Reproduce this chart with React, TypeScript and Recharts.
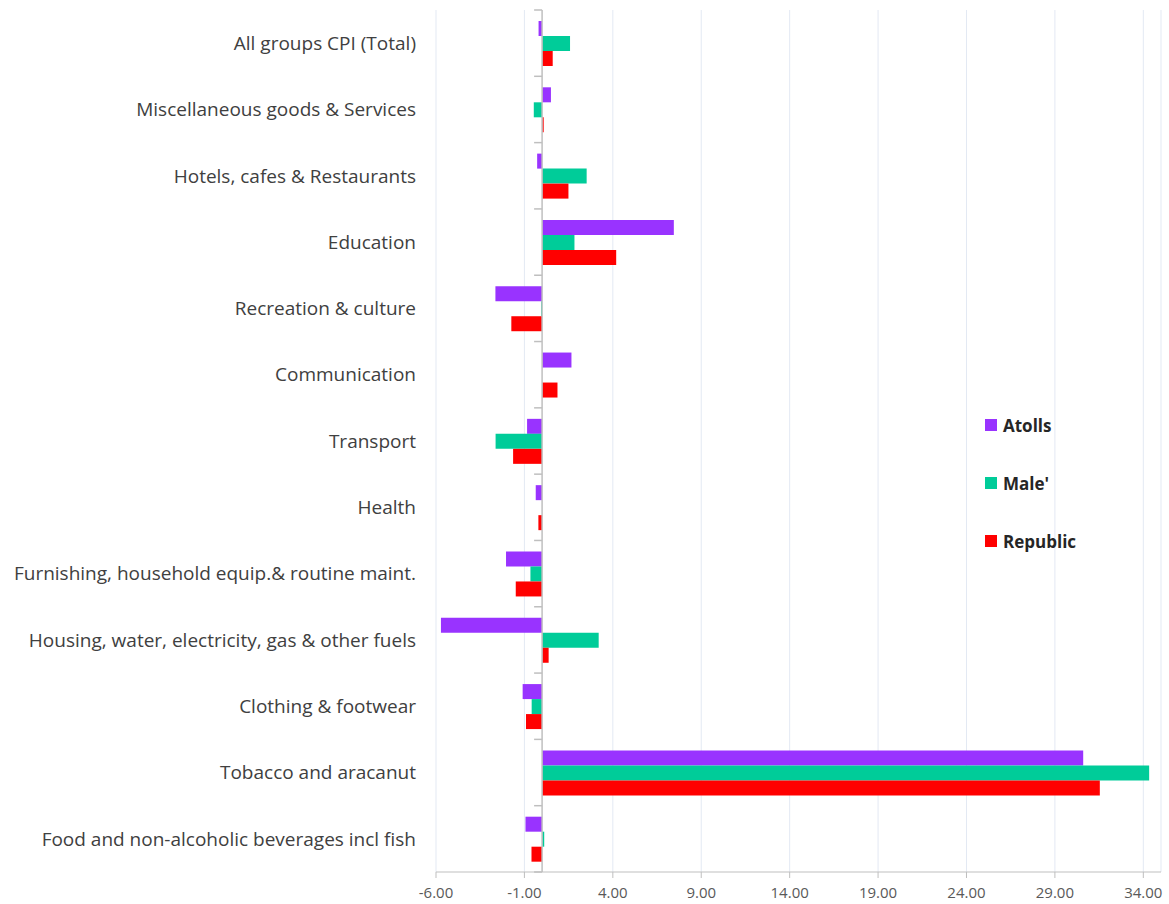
import {
  BarChart,
  Bar,
  XAxis,
  YAxis,
  CartesianGrid,
  Legend,
  ReferenceLine,
} from 'recharts';

const categories = [
  'All groups CPI (Total)',
  'Miscellaneous goods & Services',
  'Hotels, cafes & Restaurants',
  'Education',
  'Recreation & culture',
  'Communication',
  'Transport',
  'Health',
  'Furnishing, household equip.& routine maint.',
  'Housing, water, electricity, gas & other fuels',
  'Clothing & footwear',
  'Tobacco and aracanut',
  'Food and non-alcoholic beverages incl fish',
];

const atolls = [-0.2, 0.5, -0.28, 7.45, -2.64, 1.66, -0.85, -0.36, -2.04, -5.72, -1.1, 30.6, -0.94];
const male = [1.58, -0.47, 2.52, 1.83, -0.05, 0, -2.63, 0, -0.66, 3.2, -0.59, 34.33, 0.12];
const republic = [0.6, 0.09, 1.49, 4.19, -1.74, 0.87, -1.64, -0.21, -1.49, 0.37, -0.91, 31.54, -0.6];

const xTicks = [-6, -1, 4, 9, 14, 19, 24, 29, 34];

const series = [
  { key: 'atolls', name: 'Atolls', color: '#9933FF' },
  { key: 'male', name: "Male'", color: '#00CC99' },
  { key: 'republic', name: 'Republic', color: '#FF0000' },
];

const data = categories.map((c, i) => ({
  cat: c,
  atolls: atolls[i],
  male: male[i],
  republic: republic[i],
}));

const FONT = '"Open Sans", Calibri, sans-serif';

// zero line with the little category tick marks, like excel draws it
function ZeroAxis(props: any) {
  const { x1, y1, y2 } = props;
  const n = categories.length;
  const step = (y2 - y1) / n;
  const marks = [];
  for (let i = 0; i <= n; i++) {
    const y = y1 + step * i;
    marks.push(<line key={i} x1={x1 - 8} x2={x1} y1={y} y2={y} stroke="#bfbfbf" strokeWidth={1.5} />);
  }
  return (
    <g>
      <line x1={x1} x2={x1} y1={y1} y2={y2} stroke="#bfbfbf" strokeWidth={1.5} />
      {marks}
    </g>
  );
}

function LegendBox() {
  return (
    <div style={{ fontFamily: FONT }}>
      {series.map((s) => (
        <div key={s.key} style={{ display: 'flex', alignItems: 'center', height: 58 }}>
          <span style={{ width: 12, height: 12, background: s.color, marginRight: 6, display: 'inline-block' }} />
          <span style={{ fontWeight: 700, fontSize: 17, color: '#262626' }}>{s.name}</span>
        </div>
      ))}
    </div>
  );
}

export default function App() {
  return (
    <div style={{ width: 1169, height: 904, background: '#fff' }}>
      <style>{'body{margin:0}'}</style>
      <BarChart
        width={1169}
        height={904}
        data={data}
        layout="vertical"
        margin={{ top: 10, right: 8, left: 0, bottom: 0 }}
        barCategoryGap={11}
        barGap={0}
      >
        <CartesianGrid stroke="#e3e9f3" horizontal={false} vertical={true} />
        <XAxis
          type="number"
          domain={[-6, 35]}
          ticks={xTicks}
          tickFormatter={(v: number) => v.toFixed(2)}
          interval={0}
          height={32}
          tick={{ fontSize: 15, fill: '#595959', fontFamily: FONT }}
          stroke="#bfbfbf"
          tickSize={6}
          tickMargin={9}
          allowDataOverflow
        />
        <YAxis
          type="category"
          dataKey="cat"
          width={436}
          interval={0}
          axisLine={false}
          tickLine={false}
          tickMargin={14}
          tick={{ fontSize: 19, fill: '#404040', fontFamily: FONT }}
        />
        <ReferenceLine x={0} shape={ZeroAxis} />
        {series.map((s) => (
          <Bar key={s.key} dataKey={s.key} name={s.name} fill={s.color} isAnimationActive={false} />
        ))}
        <Legend
          layout="horizontal"
          verticalAlign="middle"
          align="center"
          content={LegendBox}
          wrapperStyle={{ left: 985, top: 396, width: 140 }}
        />
      </BarChart>
    </div>
  );
}
